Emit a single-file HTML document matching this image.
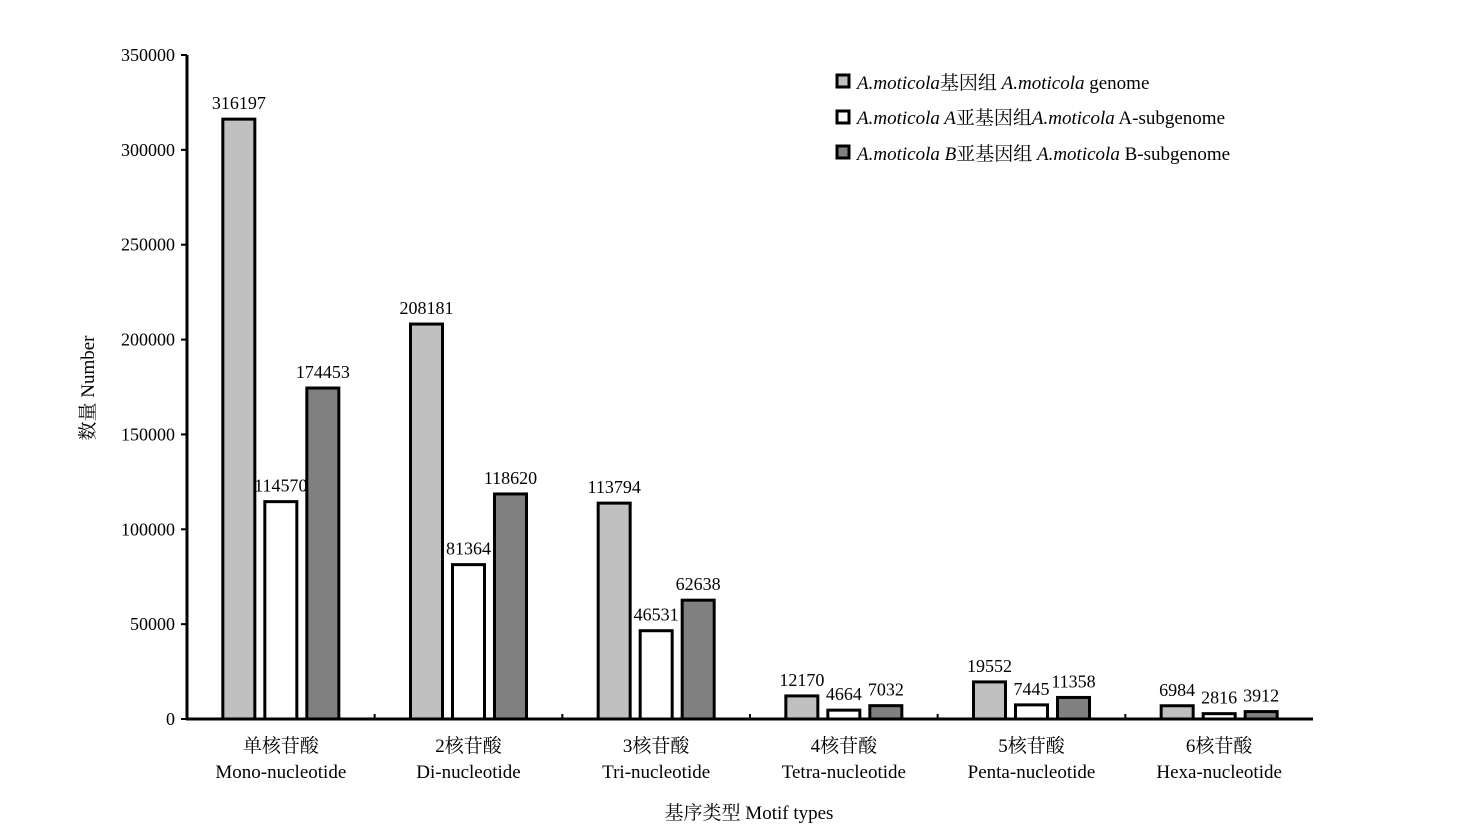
<!DOCTYPE html>
<html><head><meta charset="utf-8"><style>
body{margin:0;background:#fff;}
svg text{font-family:"Liberation Serif","Noto Serif CJK SC",serif;fill:#000;}
</style></head><body>
<svg id="c" width="1472" height="835" xmlns="http://www.w3.org/2000/svg"></svg>
<script>
const categoriesCn = ["单核苷酸","2核苷酸","3核苷酸","4核苷酸","5核苷酸","6核苷酸"];
const categoriesEn = ["Mono-nucleotide","Di-nucleotide","Tri-nucleotide","Tetra-nucleotide","Penta-nucleotide","Hexa-nucleotide"];
const genome = [316197,208181,113794,12170,19552,6984];
const subA = [114570,81364,46531,4664,7445,2816];
const subB = [174453,118620,62638,7032,11358,3912];
const yTicks = [0,50000,100000,150000,200000,250000,300000,350000];
const NS="http://www.w3.org/2000/svg";
const svg=document.getElementById('c');
const x0=187,x1=1313,yB=719,yT=55,yMax=350000;
const cw=(x1-x0)/categoriesCn.length;
function y(v){return yB-(v/yMax)*(yB-yT);}
function mk(t,a,p){const e=document.createElementNS(NS,t);for(const k in a)e.setAttribute(k,a[k]);(p||svg).appendChild(e);return e;}
// y axis
let ax=mk('line',{x1:x0,y1:yT,x2:x0,y2:yB+1,stroke:'#000','stroke-width':3});


yTicks.forEach(v=>{
  let t=mk('line',{x1:x0-6,y1:y(v),x2:x0,y2:y(v),stroke:'#000','stroke-width':2});
  
  
  let l=mk('text',{x:x0-12,y:y(v)+6,'text-anchor':'end','font-size':18});
  l.textContent=v;
  
  
});
let xa=mk('line',{x1:x0-1,y1:yB,x2:x1,y2:yB,stroke:'#000','stroke-width':3});


const series=[{d:genome,f:'#c0c0c0',n:'genome'},{d:subA,f:'#ffffff',n:'a-subgenome'},{d:subB,f:'#808080',n:'b-subgenome'}];
categoriesCn.forEach((c,i)=>{
  const cx=x0+cw*(i+0.5);
  if(i>0){let tk=mk('line',{x1:x0+cw*i,y1:yB,x2:x0+cw*i,y2:yB-5,stroke:'#000','stroke-width':2});
    
    }
  series.forEach((s,j)=>{
    const bx=cx+(j-1)*42-16;
    const by=y(s.d[i]);
    let r=mk('rect',{x:bx,y:by,width:32,height:yB-by,fill:s.f,stroke:'#000','stroke-width':3});
    
    
    let lb=mk('text',{x:bx+16,y:by-10,'text-anchor':'middle','font-size':18});
    lb.textContent=s.d[i];
    
    
  });
  let t1=mk('text',{x:cx,y:752,'text-anchor':'middle','font-size':19});
  t1.textContent=c;
  
  
  let t2=mk('text',{x:cx,y:778,'text-anchor':'middle','font-size':19});
  t2.textContent=categoriesEn[i];
  
  
});
</script>
<svg width="1472" height="835" style="position:absolute;left:0;top:0" xmlns="http://www.w3.org/2000/svg">
<text x="749" y="819" text-anchor="middle" font-size="19">基序类型 Motif types</text>
<text transform="translate(94,388) rotate(-90)" text-anchor="middle" font-size="19">数量 Number</text>
<g font-size="19">
<rect x="837" y="75" width="12" height="12" fill="#c0c0c0" stroke="#000" stroke-width="3"/>
<text x="857" y="89"><tspan font-style="italic">A.moticola</tspan>基因组 <tspan font-style="italic">A.moticola</tspan> genome</text>
<rect x="837" y="111" width="12" height="12" fill="#fff" stroke="#000" stroke-width="3"/>
<text x="857" y="124"><tspan font-style="italic">A.moticola A</tspan>亚基因组<tspan font-style="italic">A.moticola</tspan> A-subgenome</text>
<rect x="837" y="146" width="12" height="12" fill="#808080" stroke="#000" stroke-width="3"/>
<text x="857" y="160"><tspan font-style="italic">A.moticola B</tspan>亚基因组 <tspan font-style="italic">A.moticola</tspan> B-subgenome</text>
</g>
</svg>
</body></html>
